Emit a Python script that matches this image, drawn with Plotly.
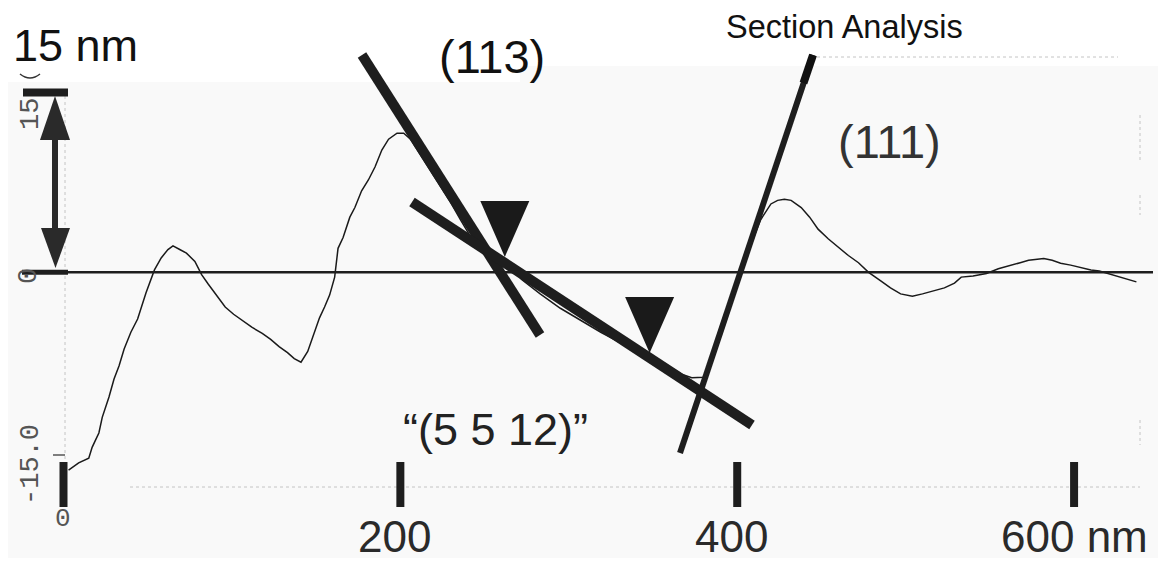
import plotly.graph_objects as go

# ---------------- data ----------------
position_nm = [3, 9, 15, 17, 19, 21, 23, 27, 30, 33, 36, 40, 44, 49, 54, 58, 62, 65, 69, 73,
               78, 82, 86, 90, 96, 101, 106, 112, 118, 123, 128, 133, 137, 141, 145, 149, 152,
               155, 158, 161, 163, 166, 170, 173, 177, 181, 185, 189, 193, 198, 202, 206, 212,
               218, 224, 230, 236, 242, 248, 253, 257, 263, 272, 283, 295, 307, 319, 331, 343,
               349, 352, 361, 367, 373, 380, 384, 388, 392, 396, 400, 403, 407, 410, 414, 417,
               420, 424, 428, 432, 438, 443, 448, 454, 460, 466, 472, 478, 485, 491, 497, 504,
               510, 517, 523, 529, 533, 540, 548, 555, 562, 568, 573, 578, 582, 587, 592, 598,
               604, 610, 615, 620, 624, 628, 633, 637]
height_nm = [-16.5, -15.9, -15.5, -14.6, -14.0, -13.4, -12.1, -10.4, -8.9, -7.8, -6.4, -5.0,
             -3.9, -1.7, 0.2, 1.2, 1.9, 2.2, 1.9, 1.6, 0.9, -0.2, -1.0, -1.8, -2.9, -3.5, -4.0,
             -4.6, -5.1, -5.6, -6.2, -6.7, -7.2, -7.5, -6.6, -4.9, -3.8, -2.9, -1.9, -0.4, 2.0,
             2.9, 4.6, 5.4, 6.8, 7.7, 8.8, 10.2, 11.1, 11.6, 11.6, 11.1, 9.8, 8.5, 7.2, 5.8,
             4.3, 2.9, 2.0, 1.5, 1.2, 0.8, -0.6, -1.8, -3.0, -4.0, -5.0, -5.9, -6.6, -6.9,
             -7.2, -8.0, -8.5, -8.8, -8.75, -7.8, -5.8, -4.0, -2.2, -0.8, 0.2, 1.8, 3.0, 4.4,
             5.1, 5.7, 6.0, 6.1, 6.0, 5.4, 4.6, 3.6, 2.8, 2.1, 1.4, 0.8, 0.0, -0.7, -1.3, -1.8,
             -2.0, -1.8, -1.5, -1.3, -0.9, -0.4, -0.3, -0.1, 0.3, 0.6, 0.8, 1.0, 1.1, 1.15,
             1.0, 0.75, 0.6, 0.4, 0.2, 0.1, -0.1, -0.3, -0.4, -0.6, -0.8]

tick_values = [0, 200, 400, 600]
tick_labels = ["200", "400", "600 nm"]
scale_bar_nm = 15
marker_positions_nm = [262, 348]

# ---------------- calibration of the picture ----------------
W, H = 1158, 562
X0_PX, X_SCALE = 63.5, 1.6843     # pixel of 0 nm, pixels per nm
Y0_PX, Y_SCALE = 272.3, 11.99     # pixel of zero height, pixels per nm

x_range = [-X0_PX / X_SCALE, (W - X0_PX) / X_SCALE]
y_range = [-(H - Y0_PX) / Y_SCALE, Y0_PX / Y_SCALE]


def dx(px):
    return (px - X0_PX) / X_SCALE


def dy(py):
    return (Y0_PX - py) / Y_SCALE


def px_(p):
    return p / W


def py_(p):
    return 1 - p / H


def tri_path(pts):
    (a, b), (c, d), (e, f) = pts
    return f"M {a},{b} L {c},{d} L {e},{f} Z"


INK = "#1e1e1e"
shapes = []

# light image background
shapes.append(dict(type="rect", xref="paper", yref="paper", x0=px_(8), x1=px_(1158),
                   y0=py_(558), y1=py_(82), fillcolor="#f9f9f9", line=dict(width=0),
                   layer="below"))
shapes.append(dict(type="rect", xref="paper", yref="paper", x0=px_(520), x1=px_(1158),
                   y0=py_(82), y1=py_(66), fillcolor="#f9f9f9", line=dict(width=0),
                   layer="below"))

# faint dotted guides
dots = dict(color="#c4c4c4", width=1, dash="dot")
for (xa, ya, xb, yb) in [(65, 96, 65, 460), (130, 487, 1140, 487), (1140, 115, 1140, 160),
                         (1140, 195, 1140, 215), (1140, 420, 1140, 445), (817, 57, 1118, 57)]:
    shapes.append(dict(type="line", xref="x", yref="y", x0=dx(xa), y0=dy(ya), x1=dx(xb),
                       y1=dy(yb), line=dots, layer="below"))

# zero line
shapes.append(dict(type="line", x0=dx(22), x1=dx(1153), y0=0, y1=0,
                   line=dict(color=INK, width=2.5)))
# scale bar ends
shapes.append(dict(type="line", x0=dx(23), x1=dx(68), y0=scale_bar_nm, y1=scale_bar_nm,
                   line=dict(color=INK, width=8)))
shapes.append(dict(type="line", x0=dx(22), x1=dx(68), y0=0, y1=0,
                   line=dict(color=INK, width=5)))
# double arrow
shapes.append(dict(type="line", x0=dx(55), x1=dx(55), y0=dy(138), y1=dy(230),
                   line=dict(color="#2a2a2a", width=6)))
shapes.append(dict(type="path", path=tri_path([(dx(55), dy(96)), (dx(40), dy(140)),
                                               (dx(70), dy(140))]),
                   fillcolor="#2a2a2a", line=dict(width=0)))
shapes.append(dict(type="path", path=tri_path([(dx(55.5), dy(268)), (dx(41), dy(228)),
                                               (dx(70), dy(228))]),
                   fillcolor="#2a2a2a", line=dict(width=0)))
# x tick bars
for tv in tick_values:
    shapes.append(dict(type="line", x0=tv, x1=tv, y0=dy(462), y1=dy(507),
                       line=dict(color=INK, width=8)))
shapes.append(dict(type="line", x0=dx(53), x1=dx(65), y0=dy(455), y1=dy(455),
                   line=dict(color="#555", width=1.5)))

# facet lines
facet_113 = [(dx(362), dy(55)), (dx(540), dy(335))]
facet_5512 = [(dx(412), dy(202)), (dx(752), dy(425))]
facet_111 = [(dx(813), dy(55)), (dx(680), dy(453))]
for (p, q), w in [(facet_113, 10), (facet_5512, 10), (facet_111, 6)]:
    shapes.append(dict(type="line", x0=p[0], y0=p[1], x1=q[0], y1=q[1],
                       line=dict(color=INK, width=w)))
# thicker top end of the (111) line
shapes.append(dict(type="line", x0=dx(813), y0=dy(55), x1=dx(803.5), y1=dy(83),
                   line=dict(color="#111", width=8)))

# triangles marking the section points
tri_half_w, tri_h = 24.5, 56
for mp in marker_positions_nm:
    tip_y = {262: 257, 348: 353}[mp]
    cx = X0_PX + mp * X_SCALE
    shapes.append(dict(type="path",
                       path=tri_path([(dx(cx), dy(tip_y)), (dx(cx - tri_half_w), dy(tip_y - tri_h)),
                                      (dx(cx + tri_half_w), dy(tip_y - tri_h))]),
                       fillcolor="#1a1a1a", line=dict(width=0)))

# small arc under the "1"
shapes.append(dict(type="path",
                   path=f"M {dx(20)},{dy(74)} Q {dx(30)},{dy(82)} {dx(40)},{dy(74)}",
                   line=dict(color="#333", width=1.5)))

fig = go.Figure()
fig.add_trace(go.Scatter(x=position_nm, y=height_nm, mode="lines",
                         line=dict(color="#1a1a1a", width=1.5), hoverinfo="skip",
                         showlegend=False))

SANS = "Liberation Sans, Arial, sans-serif"
MONO = "Liberation Mono, Courier New, monospace"
ann = []


def text(t, xp, yp, size, color="#111", font=SANS, angle=0):
    ann.append(dict(text=t, xref="paper", yref="paper", x=px_(xp), y=py_(yp),
                    xanchor="center", yanchor="middle", showarrow=False, textangle=angle,
                    font=dict(family=font, size=size, color=color)))


text("15 nm", 75, 45, 45)
text("(113)", 491.5, 56, 47)
text("Section Analysis", 844.5, 27, 32.5)
text("(111)", 889, 142, 47, color="#333")
text("\u201c(5 5 12)\u201d", 495, 429, 45, color="#222")
for tv, tl in zip(tick_values[1:], tick_labels):
    off = 0 if tl.endswith("nm") else -6
    text(tl, X0_PX + tv * X_SCALE + off, 536, 44, color="#2a2a2a")
text("15", 31, 114, 27, color="#555", font=MONO, angle=-90)
text("-15.0", 31, 465, 27, color="#555", font=MONO, angle=-90)
text("0", 29, 276, 27, color="#555", font=MONO, angle=-90)
text("0", 62.5, 519, 26, color="#555", font=MONO)

fig.update_layout(
    width=W, height=H, margin=dict(l=0, r=0, t=0, b=0),
    paper_bgcolor="white", plot_bgcolor="rgba(0,0,0,0)",
    xaxis=dict(range=x_range, visible=False, fixedrange=True),
    yaxis=dict(range=y_range, visible=False, fixedrange=True),
    shapes=shapes, annotations=ann, showlegend=False,
)
fig.write_html("out.html", config={"displayModeBar": False},
               post_script="document.body.style.margin='0px';")
